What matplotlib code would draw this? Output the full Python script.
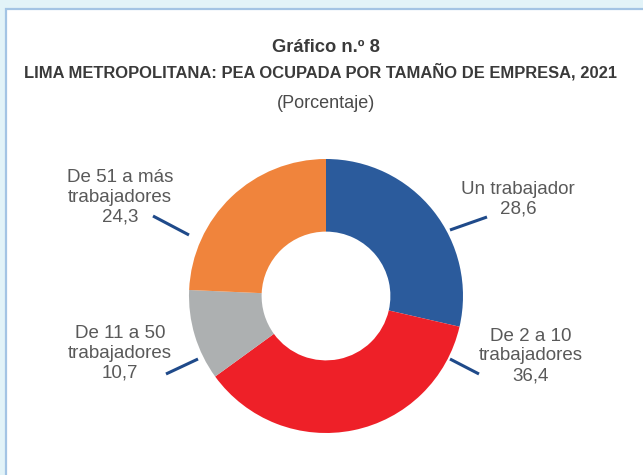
import matplotlib
matplotlib.use("Agg")
import matplotlib.pyplot as plt
from matplotlib.patches import Rectangle

plt.rcParams['font.family'] = ['Liberation Sans', 'DejaVu Sans']

categories = ["Un trabajador", "De 2 a 10\ntrabajadores", "De 11 a 50\ntrabajadores", "De 51 a más\ntrabajadores"]
values = [28.6, 36.4, 10.7, 24.3]
value_labels = ["28,6", "36,4", "10,7", "24,3"]
colors = ["#2b5b9c", "#ee2028", "#adb0b1", "#f0843c"]

W, H = 643, 475
fig = plt.figure(figsize=(W / 100, H / 100), dpi=100)
fig.patch.set_facecolor("#e2f3f8")

# white panel with border
fig.patches.append(Rectangle((6 / W, -0.1), 1.2, 1 - 9 / H + 0.1, transform=fig.transFigure,
                             facecolor="white", edgecolor="#a3c4e4", linewidth=1.6, zorder=-5))

# titles
fig.text(326 / W, 1 - 48 / H, "Gráfico n.º 8", ha="center", va="center",
         fontsize=13.2, fontweight="bold", color="#3a3a3a")
fig.text(321 / W, 1 - 72 / H, "LIMA METROPOLITANA: PEA OCUPADA POR TAMAÑO DE EMPRESA, 2021",
         ha="center", va="center", fontsize=11.9, fontweight="bold", color="#3a3a3a")
fig.text(326 / W, 1 - 103 / H, "(Porcentaje)", ha="center", va="center",
         fontsize=13, color="#4a4a4a")

# donut
cx, cy, r = 326, 296, 137
ax = fig.add_axes([(cx - r) / W, (H - cy - r) / H, 2 * r / W, 2 * r / H], zorder=2)
ax.patch.set_alpha(0)
ax.pie(values, colors=colors, startangle=90, counterclock=False, radius=1,
       wedgeprops=dict(width=0.53, linewidth=0))
ax.set_xlim(-1, 1)
ax.set_ylim(-1, 1)
ax.set_aspect("equal")
ax.axis("off")

def d(px, py):
    return ((px - cx) / r, (cy - py) / r)

# leader lines (pixel layout positions)
lines = [((450, 230), (487, 217)),
         ((450, 359), (479, 374)),
         ((198, 359), (166, 374)),
         ((189, 235), (153, 216))]
for (a, b) in lines:
    p1, p2 = d(*a), d(*b)
    ax.plot([p1[0], p2[0]], [p1[1], p2[1]], color="#1f4a8a", linewidth=2.2,
            clip_on=False, solid_capstyle="butt")

# labels
label_pos = [(518, 199), (531, 356), (120, 353), (120, 197)]
for cat, val, (px, py) in zip(categories, value_labels, label_pos):
    x, y = d(px, py)
    ax.text(x, y, cat + "\n" + val, ha="center", va="center", fontsize=13.5,
            color="#595959", linespacing=1.22, clip_on=False)

fig.savefig("out.png", dpi=100, facecolor=fig.get_facecolor())
